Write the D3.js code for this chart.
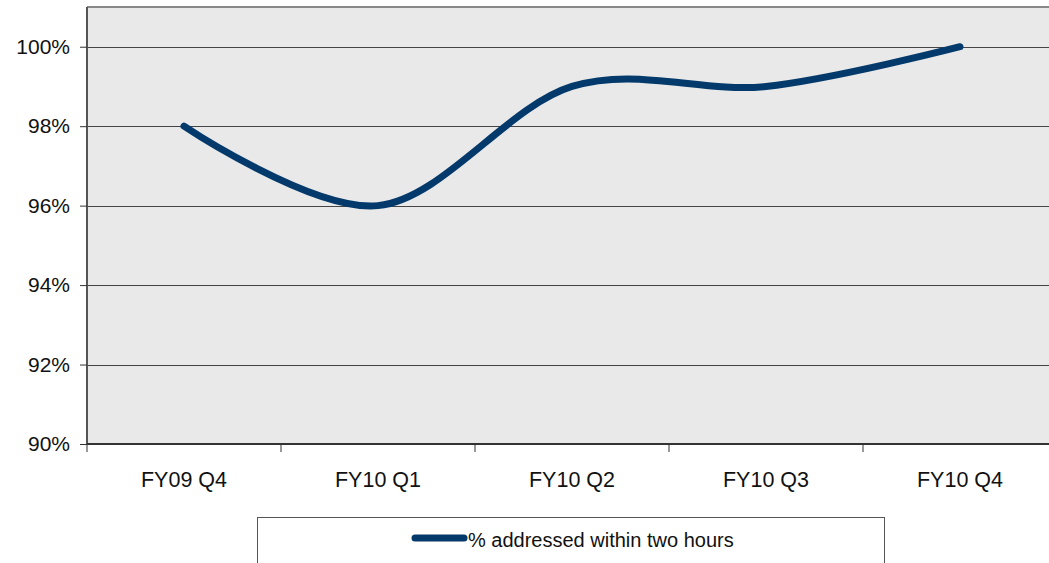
<!DOCTYPE html>
<html><head><meta charset="utf-8">
<script src="https://cdn.jsdelivr.net/npm/d3@7"></script>
<style>body{margin:0;background:#fff}svg{display:block}</style>
</head><body>
<svg id="c" width="1049" height="563"></svg>
<script>
const categories = ["FY09 Q4","FY10 Q1","FY10 Q2","FY10 Q3","FY10 Q4"];
const values = [98, 96, 99, 99, 100];
const yTicks = [90, 92, 94, 96, 98, 100];
const seriesName = "% addressed within two hours";

const svg = d3.select("#c");
const L = 87, R = 1057, T = 7, B = 444;
const x = d3.scaleBand().domain(categories).range([L, R]);
const y = d3.scaleLinear().domain([90, 101]).range([B, T]);
const font = "Liberation Sans, Arial, sans-serif";

svg.append("rect").attr("x", L).attr("y", T).attr("width", R - L).attr("height", B - T).attr("fill", "#e9e9e9");
svg.append("line").attr("x1", L).attr("x2", R).attr("y1", T).attr("y2", T).attr("stroke", "#888").attr("stroke-width", 2);

// gridlines
svg.append("g").selectAll("line").data(yTicks.filter(d => d > 90)).join("line")
  .attr("x1", L).attr("x2", R).attr("y1", d => Math.round(y(d)) + 0.5).attr("y2", d => Math.round(y(d)) + 0.5)
  .attr("stroke", "#444").attr("stroke-width", 1);

// y axis
const yAxis = svg.append("g").attr("transform", `translate(${L},0)`)
  .call(d3.axisLeft(y).tickValues(yTicks).tickSize(7).tickPadding(10).tickFormat(d => d + "%"));
yAxis.select(".domain").attr("stroke", "#555").attr("stroke-width", 2).attr("d", `M0,${T}V${B}`);
yAxis.selectAll(".tick line").attr("stroke", "#333");
yAxis.selectAll("text").attr("font-family", font).attr("font-size", 21).attr("fill", "#111");

// x axis
const xAxis = svg.append("g").attr("transform", `translate(0,${B})`)
  .call(d3.axisBottom(x).tickSize(0).tickPadding(28));
xAxis.select(".domain").attr("stroke", "#333").attr("stroke-width", 2).attr("d", `M${L},0H${R}`);
xAxis.selectAll("text").attr("font-family", font).attr("font-size", 21.5).attr("fill", "#111");
xAxis.append("g").selectAll("line").data(categories.map((c, i) => i).concat([categories.length])).join("line")
  .attr("x1", i => L + i * x.step()).attr("x2", i => L + i * x.step())
  .attr("y1", 0).attr("y2", 8).attr("stroke", "#333");

// line
const line = d3.line().x((d, i) => x(categories[i]) + x.bandwidth() / 2).y(d => y(d)).curve(d3.curveCatmullRom.alpha(0));
svg.append("path").datum(values).attr("d", line).attr("fill", "none")
  .attr("stroke", "#043a6b").attr("stroke-width", 7).attr("stroke-linecap", "round");

// legend
svg.append("rect").attr("x", 257.5).attr("y", 517.5).attr("width", 627).attr("height", 60)
  .attr("fill", "#fff").attr("stroke", "#555").attr("stroke-width", 1);
svg.append("line").attr("x1", 415).attr("x2", 464).attr("y1", 538).attr("y2", 538)
  .attr("stroke", "#043a6b").attr("stroke-width", 7).attr("stroke-linecap", "round");
svg.append("text").attr("x", 468).attr("y", 547).attr("font-family", font).attr("font-size", 20)
  .attr("fill", "#111").text(seriesName);
</script>
</body></html>
